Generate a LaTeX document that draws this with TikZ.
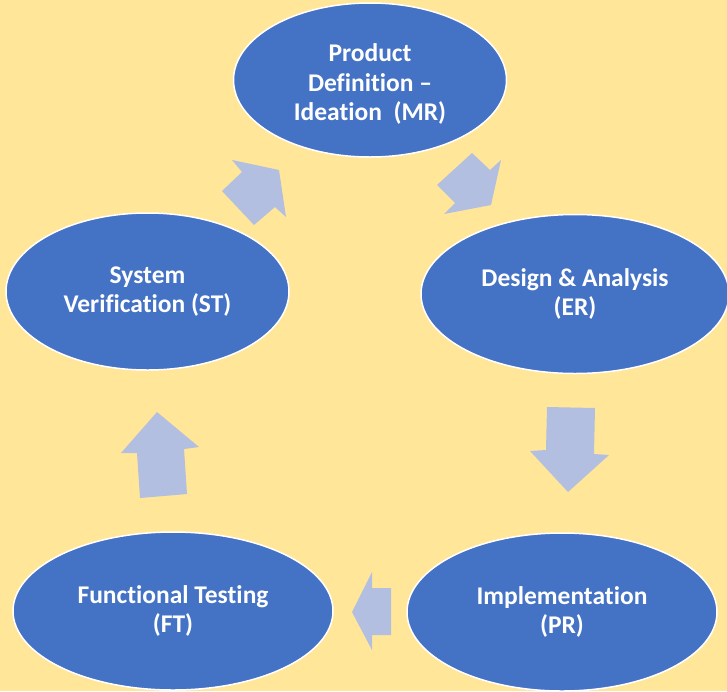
\documentclass[tikz,border=0pt]{standalone}
\usepackage{fontspec}
\setmainfont[Ligatures=CommonOff]{Carlito}
\usetikzlibrary{shapes.geometric}
\definecolor{bgyellow}{RGB}{255,230,153}
\definecolor{ellblue}{RGB}{68,114,196}
\definecolor{arrblue}{RGB}{178,191,224}
\tikzset{
  stagetext/.style={text=white, font=\fontsize{25.5}{29.5}\selectfont\bfseries, align=center},
  stage/.style={ellipse, fill=ellblue, draw=white, line width=1.5pt, inner sep=0pt, stagetext},
  blockarrow/.style={fill=arrblue, draw=none}
}
\begin{document}
\begin{tikzpicture}[x=1pt,y=-1pt]
\fill[bgyellow] (0,0) rectangle (727,691);
\useasboundingbox (0,0) rectangle (727,691);
% stages
\node[stage, minimum width=273pt, minimum height=154pt] (mr) at (370,80) {};
\node[stagetext] (mrt) at (370,84) {Product\\Definition --\\Ideation\ \ (MR)};
\node[stage, minimum width=308pt, minimum height=159pt] (er) at (575,294) {Design \& Analysis\\(ER)};
\node[stage, minimum width=310pt, minimum height=158pt] (pr) at (562,612) {Implementation\\(PR)};
\node[stage, minimum width=320pt, minimum height=158pt] (ft) at (173,611) {Functional Testing\\(FT)};
\node[stage, minimum width=283pt, minimum height=157pt] (st) at (147.5,291.5) {System\\Verification (ST)};
% block arrows
\fill[blockarrow] (222,191) -- (242,172) -- (232,160) -- (279,170) -- (286,217) -- (275,207) -- (254,225) -- cycle;
\fill[blockarrow] (472,153) -- (490,170) -- (501,160) -- (491,205) -- (444,214) -- (455,203) -- (437,185) -- cycle;
\fill[blockarrow] (547,407) -- (595,408) -- (594,454) -- (609,455) -- (568,492) -- (530,451) -- (546,450) -- cycle;
\fill[blockarrow] (391,588) -- (391,635) -- (372,635) -- (372,650) -- (352,612) -- (372,572) -- (372,588) -- cycle;
\fill[blockarrow] (187,494) -- (140,498) -- (137,453) -- (121,453) -- (157,412) -- (199,447) -- (184,449) -- cycle;
\end{tikzpicture}
\end{document}
